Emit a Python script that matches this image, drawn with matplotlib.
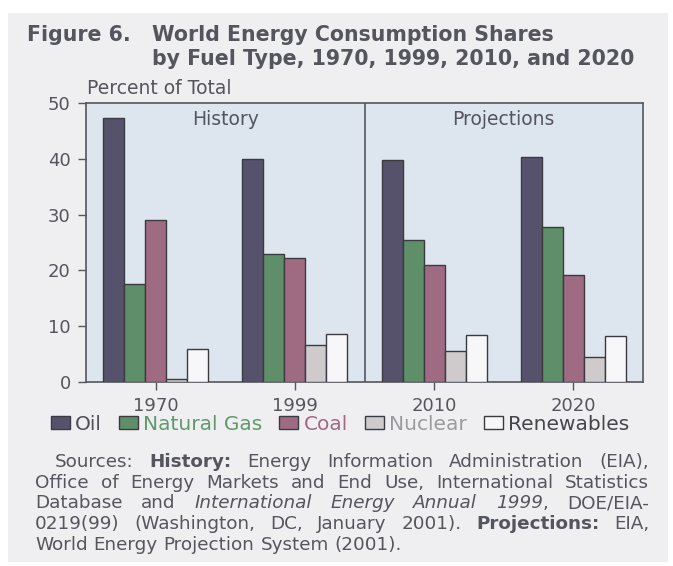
import matplotlib
matplotlib.use('Agg')
import matplotlib.pyplot as plt
from matplotlib.patches import Rectangle, Patch
import numpy as np

plt.rcParams['font.family'] = ['DejaVu Sans']

# fuel shares, percent of total world energy consumption
years = ['1970', '1999', '2010', '2020']
fuels = ['Oil', 'Natural Gas', 'Coal', 'Nuclear', 'Renewables']
oil = [47.4, 40.0, 39.7, 40.3]
natural_gas = [17.6, 22.9, 25.4, 27.7]
coal = [29.0, 22.3, 21.0, 19.2]
nuclear = [0.6, 6.6, 5.6, 4.5]
renewables = [6.0, 8.6, 8.5, 8.2]
panels = ['History', 'Projections']

bar_colors = ['#57526c', '#5f8f69', '#9e6b82', '#cfcbcc', '#f7f7f9']
label_colors = ['#4f4f58', '#5f9a6c', '#a06a84', '#9a9aa0', '#45454c']
text_color = '#55555d'
W, H = 673, 566


def fx(px):
    return px / W


def fy(py):
    return 1 - py / H


fig = plt.figure(figsize=(W / 100, H / 100), dpi=100, facecolor='white')
fig.patches.append(Rectangle((fx(8), fy(562)), fx(660), 549 / H, transform=fig.transFigure,
                             facecolor='#efeff2', edgecolor='none', zorder=-10))

# title
title_kw = dict(fontsize=14.8, fontweight='bold', color=text_color, va='center')
fig.text(fx(27), fy(35), 'Figure 6.', **title_kw)
fig.text(fx(152), fy(35), 'World Energy Consumption Shares', **title_kw)
fig.text(fx(152), fy(59), 'by Fuel Type, 1970, 1999, 2010, and 2020', **title_kw)
fig.text(fx(87), fy(88), 'Percent of Total', fontsize=13.5, color=text_color, va='center')

ax = fig.add_axes([fx(86), fy(382), (643 - 86) / W, (382 - 103) / H])
ax.set_facecolor('#dde5ee')

series = [oil, natural_gas, coal, nuclear, renewables]
x = np.arange(len(years))
width = 0.151
for i, (vals, c) in enumerate(zip(series, bar_colors)):
    ax.bar(x + (i - 2) * width, vals, width, color=c, edgecolor='#3a3a40', linewidth=1.0,
           label=fuels[i], zorder=3)

ax.set_xlim(-0.5, 3.5)
ax.set_ylim(0, 50)
ax.set_yticks([0, 10, 20, 30, 40, 50])
ax.set_xticks(x)
ax.set_xticklabels(years)
ax.axvline(1.5, color='#55555d', linewidth=1.2, zorder=4)
for s in ax.spines.values():
    s.set_color('#55555d')
    s.set_linewidth(1.2)
ax.tick_params(axis='both', colors='#55555d', labelcolor=text_color, labelsize=13,
               length=6, width=1.0)
ax.tick_params(axis='y', pad=5)
ax.tick_params(axis='x', pad=5)

ax.text(0.5, 47, panels[0], ha='center', va='center', fontsize=13.5, color=text_color)
ax.text(2.5, 47, panels[1], ha='center', va='center', fontsize=13.5, color=text_color)

handles = [Patch(facecolor=c, edgecolor='#3a3a40', linewidth=1.0) for c in bar_colors]
fig.legend(handles, fuels, loc='center', bbox_to_anchor=(fx(340), fy(424)), ncol=5,
           frameon=False, fontsize=14.5, handlelength=0.95, handleheight=0.65,
           handletextpad=0.25, columnspacing=0.85, labelcolor=label_colors,
           borderaxespad=0, borderpad=0)

# source note, justified between fixed margins
lines = [
    [[('Sources:', 'n')], [('History:', 'b')], [('Energy', 'n')], [('Information', 'n')],
     [('Administration', 'n')], [('(EIA),', 'n')]],
    [[(w, 'n')] for w in 'Office of Energy Markets and End Use, International Statistics'.split()],
    [[('Database', 'n')], [('and', 'n')], [('International', 'i')], [('Energy', 'i')],
     [('Annual', 'i')], [('1999', 'i'), (',', 'n')], [('DOE/EIA-', 'n')]],
    [[('0219(99)', 'n')], [('(Washington,', 'n')], [('DC,', 'n')], [('January', 'n')],
     [('2001).', 'n')], [('Projections:', 'b')], [('EIA,', 'n')]],
    [[(w, 'n')] for w in 'World Energy Projection System (2001).'.split()],
]
line_y = [462, 483, 503, 524, 545]
line_x0 = [55, 35, 35, 35, 35]
right_edge = 649
note_size = 13.2

renderer = fig.canvas.get_renderer()


def seg_text(x0, y, s, style):
    kw = dict(fontsize=note_size, color=text_color, va='center', ha='left')
    if style == 'b':
        kw['fontweight'] = 'bold'
    elif style == 'i':
        kw['fontstyle'] = 'italic'
    return fig.text(fx(x0), fy(y), s, **kw)


def text_width(s, style):
    t = seg_text(0, 0, s, style)
    w = t.get_window_extent(renderer).width
    t.remove()
    return w


space = text_width('a a', 'n') - 2 * text_width('a', 'n')

for li, words in enumerate(lines):
    widths = [sum(text_width(s, st) for s, st in word) for word in words]
    if li < len(lines) - 1:
        gap = (right_edge - line_x0[li] - sum(widths)) / (len(words) - 1)
    else:
        gap = space
    xpos = line_x0[li]
    for word, w in zip(words, widths):
        xs = xpos
        for s, st in word:
            seg_text(xs, line_y[li], s, st)
            xs += text_width(s, st)
        xpos += w + gap

fig.savefig('out.png', dpi=100, facecolor=fig.get_facecolor())
